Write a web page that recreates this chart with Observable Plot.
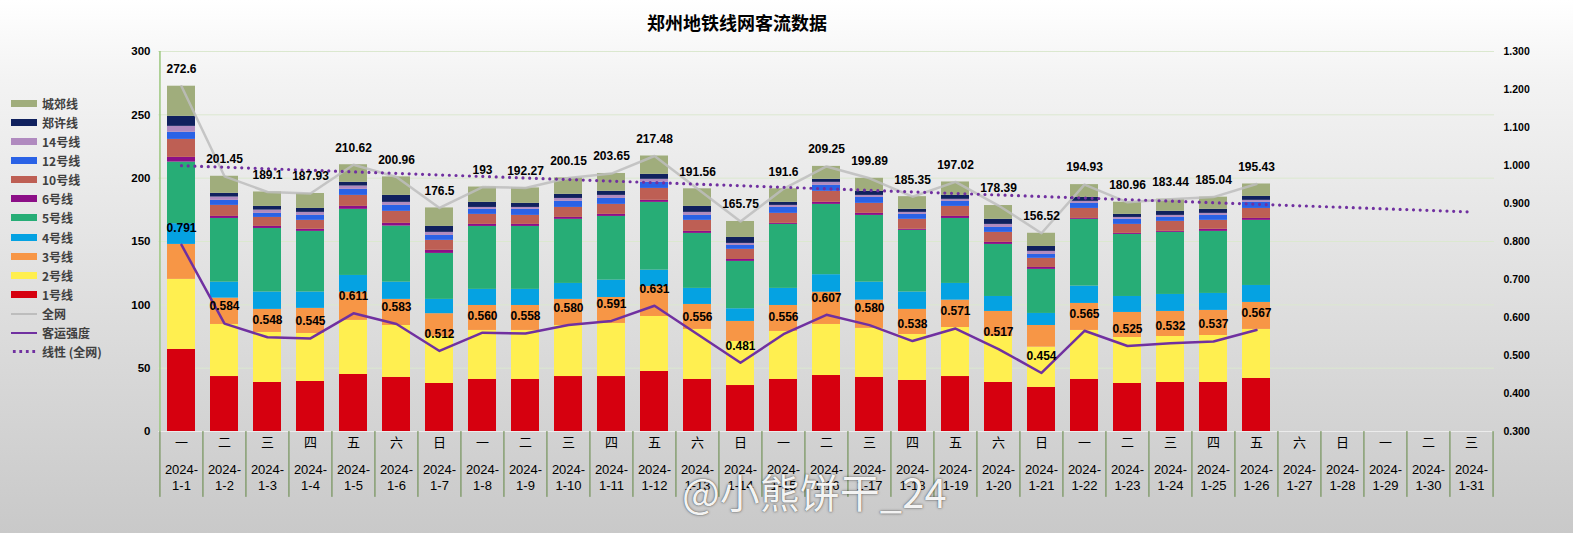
<!DOCTYPE html>
<html><head><meta charset="utf-8">
<script src="https://cdn.jsdelivr.net/npm/d3@7"></script>
<script src="https://cdn.jsdelivr.net/npm/@observablehq/plot@0.6"></script>
<style>
html,body{margin:0;padding:0;}
body{width:1573px;height:533px;overflow:hidden;position:relative;background:linear-gradient(#ffffff 0%, #f3f3f3 15%, #c9c9c9 100%);font-family:"Liberation Sans","Noto Sans CJK SC",sans-serif;}
#chart{position:absolute;left:0;top:0;}
#title{position:absolute;left:0;width:1474px;top:9px;text-align:center;font:bold 18px "Noto Sans CJK SC",sans-serif;color:#000;}
#legend{position:absolute;left:0;top:0;}
.lg{position:absolute;left:11px;height:18px;display:flex;align-items:center;font:bold 12px "Noto Sans CJK SC","Liberation Sans",sans-serif;color:#404040;white-space:nowrap;}
.sw{width:26px;height:7px;margin-right:5px;}
.ln{width:26px;height:2px;margin-right:5px;}
#wm{position:absolute;left:682px;top:462px;font:400 40px "Noto Sans CJK SC",sans-serif;color:rgba(255,255,255,0.95);text-shadow:0 0 3px rgba(0,0,0,0.45),0 0 1px rgba(0,0,0,0.5);}
</style></head><body>
<div id="chart"></div>
<div id="title">郑州地铁线网客流数据</div>
<div id="legend"></div>
<div id="wm">@小熊饼干_24</div>
<script>
const dates = ["1-1","1-2","1-3","1-4","1-5","1-6","1-7","1-8","1-9","1-10","1-11","1-12","1-13","1-14","1-15","1-16","1-17","1-18","1-19","1-20","1-21","1-22","1-23","1-24","1-25","1-26","1-27","1-28","1-29","1-30","1-31"];
const weekdays = ["一","二","三","四","五","六","日","一","二","三","四","五","六","日","一","二","三","四","五","六","日","一","二","三","四","五","六","日","一","二","三"];
const lines = ["1号线","2号线","3号线","4号线","5号线","6号线","10号线","12号线","14号线","郑许线","城郊线"];
const colors = ["#d6000f","#ffef50","#f79646","#05a2e2","#27ad76","#8c0f87","#be5f54","#2a62e6","#b08abf","#10215e","#a0ad7c"];

const line1  = [64.8,43.4,38.7,39.5,45.0,42.7,37.9,41.1,41.1,43.4,43.4,47.4,41.1,36.3,41.1,44.2,42.7,40.3,43.4,38.7,34.8,41.1,37.9,38.7,38.7,41.9];
const line2  = [55.3,41.1,39.5,37.9,42.7,41.0,37.1,38.7,38.7,40.3,41.9,43.4,39.5,34.8,37.9,40.3,38.7,36.3,38.7,36.3,31.8,38.7,36.3,36.3,37.1,38.7];
const line3  = [27.6,20.8,18.2,19.8,22.3,20.6,18.0,19.7,19.7,20.6,20.5,23.7,19.7,15.8,20.5,25.5,22.3,19.8,21.6,19.8,17.1,21.3,19.8,19.8,19.8,21.3];
const line4  = [16.4,12.6,13.7,12.9,13.2,13.6,11.3,12.7,12.7,12.6,13.7,12.9,12.7,10.0,13.5,13.8,14.2,13.7,13.2,11.8,9.5,13.7,12.6,13.4,13.4,13.4];
const line5  = [48.6,50.3,50.2,47.9,52.2,44.3,36.3,49.7,49.7,50.6,50.3,53.5,43.4,37.4,50.5,55.5,52.7,48.7,51.3,41.1,34.8,52.7,49.0,49.0,49.0,51.4];
const line6  = [3.7,1.6,1.6,1.6,2.3,2.1,2.4,1.6,1.6,1.5,1.6,1.6,1.6,1.5,0.8,1.6,1.6,0.8,1.6,1.6,1.5,0.7,0.8,0.8,1.6,1.5];
const line10 = [14.2,8.7,7.1,7.1,8.7,9.5,7.9,7.9,7.1,7.9,7.9,9.4,8.7,8.0,7.9,8.7,7.9,7.9,7.9,7.9,7.2,7.9,7.1,7.9,7.1,7.9];
const line12 = [5.6,4.0,3.2,3.9,4.8,4.7,3.9,4.0,4.8,4.8,4.7,4.8,3.9,3.1,4.7,4.7,4.7,3.9,4.0,3.9,3.1,4.0,4.0,3.1,3.9,4.8];
const line14 = [4.7,2.6,2.6,2.4,2.6,2.4,2.4,1.5,1.5,2.3,2.4,2.4,2.4,1.6,1.6,2.4,1.6,1.6,1.6,2.4,2.4,1.6,1.5,1.6,1.6,1.6];
const lineZX = [7.9,2.9,2.9,3.1,2.9,5.5,4.7,4.0,3.2,3.2,3.2,3.9,4.7,4.7,2.4,2.4,3.2,2.4,3.1,4.0,3.9,3.1,2.4,3.2,3.2,3.1];
const lineCJ = [23.8,13.5,11.4,11.8,13.9,14.6,14.6,12.1,12.2,13.0,14.1,14.5,13.9,12.6,10.7,10.2,10.3,10.0,10.6,10.9,10.4,10.1,9.6,9.6,9.6,9.8];
const total = [272.6,201.45,189.1,187.93,210.62,200.96,176.5,193,192.27,200.15,203.65,217.48,191.56,165.75,191.6,209.25,199.89,185.35,197.02,178.39,156.52,194.93,180.96,183.44,185.04,195.43];
const intensity = [0.791,0.584,0.548,0.545,0.611,0.583,0.512,0.560,0.558,0.580,0.591,0.631,0.556,0.481,0.556,0.607,0.580,0.538,0.571,0.517,0.454,0.565,0.525,0.532,0.537,0.567];
const leftTicks = [0,50,100,150,200,250,300];
const rightTicks = [0.3,0.4,0.5,0.6,0.7,0.8,0.9,1.0,1.1,1.2,1.3];

const series = [line1,line2,line3,line4,line5,line6,line10,line12,line14,lineZX,lineCJ];
const days = total.map((_, i) => dates[i]);
const barData = days.flatMap((d, i) => lines.map((l, j) => ({date: d, line: l, value: series[j][i]})));

// linear trend of 全网 (least squares), forecast to end of month
const xs = total.map((_, i) => i + 1);
const mx = d3.mean(xs), my = d3.mean(total);
const slope = d3.sum(xs, (x, i) => (x - mx) * (total[i] - my)) / d3.sum(xs, x => (x - mx) ** 2);
const trend = dates.map((d, i) => ({date: d, v: my + slope * (i + 1 - mx)}));

const yR = v => (v - 0.3) * 300; // right axis mapped onto left y scale
const W = 1573, H = 533, mL = 158, mR = 79, mT = 51, mB = 102;
const step = (W - mL - mR) / dates.length;
const purple = "#7030a0";

const chart = Plot.plot({
  width: W, height: H,
  marginTop: mT, marginBottom: mB, marginLeft: mL, marginRight: mR,
  style: {background: "transparent", overflow: "visible", fontFamily: "Liberation Sans, Noto Sans CJK SC, sans-serif", fontSize: "12px", color: "#000"},
  x: {type: "band", domain: dates, paddingInner: 0.35, paddingOuter: 0.175, align: 0.5, axis: null},
  y: {domain: [0, 300], axis: null},
  color: {domain: lines, range: colors},
  marks: [
    Plot.ruleY(leftTicks.slice(1), {y: d => d, stroke: "#dbe8cf", strokeWidth: 1}),
    Plot.ruleY([0], {y: d => d, stroke: "#ececec", strokeWidth: 1}),
    Plot.ruleX(dates, {x: d => d, y1: 0, y2: -52, dx: -step / 2, stroke: "#4f7a2a", strokeWidth: 1, strokeOpacity: 0.85}),
    Plot.ruleX([dates[dates.length - 1]], {x: d => d, y1: 0, y2: -52, dx: step / 2, stroke: "#4f7a2a", strokeWidth: 1, strokeOpacity: 0.85}),
    Plot.ruleX([dates[0]], {x: d => d, y1: 0, y2: 300, dx: -step / 2, stroke: "#9cc77e", strokeWidth: 1.5}),
    Plot.barY(barData, {x: "date", y: "value", fill: "line", order: lines}),
    Plot.line(total, {x: (d, i) => days[i], y: d => d, stroke: "#bdbdbd", strokeWidth: 2.5, strokeOpacity: 0.85}),
    Plot.line(trend, {x: "date", y: "v", stroke: purple, strokeWidth: 3.2, strokeDasharray: "0 6.7", strokeLinecap: "round"}),
    Plot.line(intensity, {x: (d, i) => days[i], y: d => yR(d), stroke: purple, strokeWidth: 2.5}),
    Plot.text(intensity, {x: (d, i) => days[i], y: d => yR(d), text: d => d.toFixed(3), dy: -17, fontWeight: "bold", fontSize: 12, fill: "#000"}),
    Plot.text(total, {x: (d, i) => days[i], y: d => d, text: d => String(d), dy: -17, fontWeight: "bold", fontSize: 12, fill: "#000"}),
    Plot.axisY(leftTicks, {anchor: "left", tickSize: 0, tickPadding: 8, fontWeight: "bold", fontSize: 11.5, fill: "#000"}),
    Plot.axisY(rightTicks.map(yR), {anchor: "right", tickSize: 0, tickPadding: 9, tickFormat: d => (d / 300 + 0.3).toFixed(3), fontWeight: "bold", fontSize: 10.5, fill: "#000"}),
    Plot.text(dates, {x: d => d, frameAnchor: "bottom", dy: 15, text: (d, i) => weekdays[i], fontSize: 13, fill: "#000"}),
    Plot.text(dates, {x: d => d, frameAnchor: "bottom", dy: 30, lineAnchor: "top", text: d => "2024-\n" + d, lineHeight: 1.3, fontSize: 13, fill: "#000"})
  ]
});
document.getElementById("chart").appendChild(chart);

// legend
const legendItems = [
  ...lines.map((l, j) => ({label: l, color: colors[j], kind: "box"})).reverse(),
  {label: "全网", color: "#bdbdbd", kind: "line"},
  {label: "客运强度", color: purple, kind: "line"},
  {label: "线性 (全网)", color: purple, kind: "dots"}
];
const lg = document.getElementById("legend");
legendItems.forEach((it, k) => {
  const row = document.createElement("div");
  row.className = "lg";
  row.style.top = (94 + k * 19.15) + "px";
  const sw = document.createElement("div");
  if (it.kind === "box") { sw.className = "sw"; sw.style.background = it.color; }
  else if (it.kind === "line") { sw.className = "ln"; sw.style.background = it.color; }
  else { sw.className = "ln"; sw.style.height = "3px"; sw.style.background = `radial-gradient(circle, ${it.color} 1.4px, transparent 1.6px) 0 0 / 6.5px 3px repeat-x`; }
  row.appendChild(sw);
  const t = document.createElement("span");
  t.textContent = it.label;
  row.appendChild(t);
  lg.appendChild(row);
});
</script>
</body></html>
